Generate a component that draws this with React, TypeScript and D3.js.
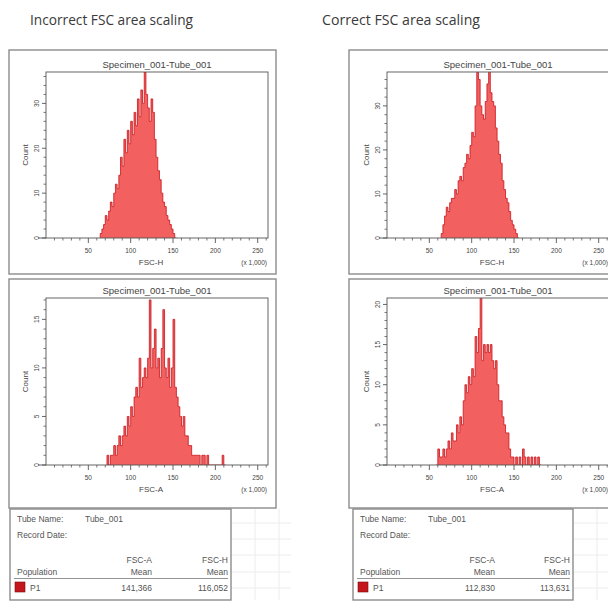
import React from 'react';
import * as d3 from 'd3';

// ---------- data ----------
const columnTitles = ['Incorrect FSC area scaling', 'Correct FSC area scaling'];
const plotTitle = 'Specimen_001-Tube_001';
const xTickValues = [50, 100, 150, 200, 250];
const xTickLabels = ['50', '100', '150', '200', '250'];
const binWidth = 2; // x 1,000

// Incorrect – FSC-H
const incorrectHStart = 64;
const incorrectHCounts = [1, 2, 3, 5, 4, 6, 8, 7, 10, 12, 11, 14, 18, 16, 22, 19, 24, 21, 26, 23, 28, 25, 31, 27, 33, 30, 37, 32, 29, 26, 31, 28, 22, 18, 15, 13, 10, 8, 7, 5, 4, 3, 2, 1, 0];
const incorrectHTicks = [0, 10, 20, 30];

// Incorrect – FSC-A
const incorrectAStart = 72;
const incorrectACounts = [1, 0, 1, 1, 2, 1, 2, 3, 2, 3, 4, 3, 5, 4, 6, 5, 7, 8, 7, 11, 8, 9, 10, 9, 11, 17, 10, 12, 14, 10, 11, 9, 12, 16, 10, 9, 11, 8, 10, 15, 8, 7, 6, 5, 4, 5, 3, 3, 2, 2, 1, 1, 1, 1, 1, 0, 1, 1, 0, 1, 0, 0, 0, 0, 0, 0, 0, 0, 1, 0];
const incorrectATicks = [0, 5, 10, 15];

// Correct – FSC-H
const correctHStart = 64;
const correctHCounts = [1, 3, 5, 7, 6, 8, 9, 9, 11, 10, 13, 14, 13, 16, 17, 19, 18, 21, 24, 23, 30, 38, 36, 30, 28, 27, 31, 35, 38, 33, 31, 30, 25, 22, 19, 17, 13, 11, 9, 8, 6, 4, 3, 2, 1, 0];
const correctHTicks = [0, 10, 20, 30];

// Correct – FSC-A
const correctAStart = 58;
const correctACounts = [0, 2, 1, 1, 2, 1, 2, 3, 2, 4, 3, 3, 5, 4, 6, 5, 8, 10, 9, 11, 10, 12, 11, 16, 14, 17, 21, 13, 15, 14, 15, 14, 15, 13, 12, 13, 10, 8, 8, 6, 5, 4, 4, 2, 1, 1, 0, 1, 0, 1, 0, 2, 1, 0, 1, 0, 1, 0, 1, 0, 1, 0];
const correctATicks = [0, 5, 10, 15, 20];

const tableTubeName = 'Tube_001';
const tableMeansLeft = ['141,366', '116,052'];
const tableMeansRight = ['112,830', '113,631'];

// ---------- helpers ----------
type PanelProps = {
  boxX: number; boxY: number; boxW: number; boxH: number;
  left: number; top: number; bottom: number;
  start: number; counts: number[]; ticks: number[]; yMax: number;
  xLabel: string; id: string;
};

const FONT = 'Liberation Sans, Arial, sans-serif';
const AXIS = '#555';

function Panel(p: PanelProps) {
  const x = d3.scaleLinear().domain([0, 262.144]).range([p.left, p.left + 222]);
  const y = d3.scaleLinear().domain([0, p.yMax]).range([p.bottom, p.top]);
  const right = x(262.144);
  const pts: [number, number][] = p.counts.map((c, i) => [p.start + i * binWidth, c]);
  pts.push([p.start + p.counts.length * binWidth, 0]);
  const area = d3.area<[number, number]>()
    .x(d => x(d[0])).y0(y(0)).y1(d => y(d[1]))
    .curve(d3.curveStepAfter);
  const line = d3.line<[number, number]>()
    .x(d => x(d[0])).y(d => y(d[1]))
    .curve(d3.curveStepAfter);
  const startPt: [number, number] = [p.start, 0];
  const linePts = [startPt, ...pts];
  const xMinor = d3.range(10, 262, 10).filter(v => v % 50 !== 0);
  const step = p.ticks[1] - p.ticks[0];
  const yMinor = d3.range(0, p.yMax, step / 5).filter(v => Math.abs(v / step - Math.round(v / step)) > 1e-6);
  return (
    <g>
      <rect x={p.boxX} y={p.boxY} width={p.boxW} height={p.boxH} fill="#fff" stroke="#8c8c8c" strokeWidth={1.4} />
      <clipPath id={p.id}>
        <rect x={p.left} y={p.top} width={right - p.left} height={p.bottom - p.top} />
      </clipPath>
      <g clipPath={`url(#${p.id})`}>
        <path d={area(pts) || ''} fill="#f2605f" />
        <path d={line(linePts) || ''} fill="none" stroke="#c9141c" strokeWidth={0.8} />
      </g>
      <rect x={p.left} y={p.top} width={right - p.left} height={p.bottom - p.top} fill="none" stroke={AXIS} strokeWidth={0.9} />
      <text x={(p.left + right) / 2} y={p.top - 4} textAnchor="middle" fontFamily={FONT} fontSize={9.5} fill="#444">{plotTitle}</text>
      {/* x axis */}
      <line x1={p.left - 8} x2={p.left} y1={p.bottom} y2={p.bottom} stroke={AXIS} strokeWidth={0.9} />
      {xTickValues.map((v, i) => (
        <g key={v}>
          <line x1={x(v)} x2={x(v)} y1={p.bottom} y2={p.bottom + 5} stroke={AXIS} strokeWidth={0.9} />
          <text x={x(v)} y={p.bottom + 15} textAnchor="middle" fontFamily={FONT} fontSize={6.5} fill="#444">{xTickLabels[i]}</text>
        </g>
      ))}
      {xMinor.map(v => (
        <line key={v} x1={x(v)} x2={x(v)} y1={p.bottom} y2={p.bottom + 2.5} stroke={AXIS} strokeWidth={0.8} />
      ))}
      <text x={(p.left + right) / 2 - 6} y={p.bottom + 27} textAnchor="middle" fontFamily={FONT} fontSize={8} fill="#444">{p.xLabel}</text>
      <text x={right - 1} y={p.bottom + 27} textAnchor="end" fontFamily={FONT} fontSize={6.5} fill="#444">(x 1,000)</text>
      {/* y axis */}
      {p.ticks.map(t => (
        <g key={t}>
          <line x1={p.left - 4} x2={p.left} y1={y(t)} y2={y(t)} stroke={AXIS} strokeWidth={0.9} />
          <text transform={`translate(${p.left - 7},${y(t)}) rotate(-90)`} textAnchor="middle" fontFamily={FONT} fontSize={6.5} fill="#444">{t}</text>
        </g>
      ))}
      {yMinor.map(v => (
        <line key={v} x1={p.left - 2.5} x2={p.left} y1={y(v)} y2={y(v)} stroke={AXIS} strokeWidth={0.8} />
      ))}
      <text transform={`translate(${p.left - 18},${(p.top + p.bottom) / 2}) rotate(-90)`} textAnchor="middle" fontFamily={FONT} fontSize={8} fill="#444">Count</text>
    </g>
  );
}

function Table({ x0, x1, means }: { x0: number; x1: number; means: string[] }) {
  const y0 = 509, y1 = 600;
  const c1 = x0 + 142, c2 = x1 - 3;
  const fs = 8.5;
  const col = '#555';
  return (
    <g fontFamily={FONT} fontSize={fs} fill={col}>
      {[523, 539, 555, 572, 588].map(gy => (
        <line key={gy} x1={x1} x2={x1 + 60} y1={gy} y2={gy} stroke="#ececec" strokeWidth={1} />
      ))}
      {[x1 + 24, x1 + 48].map(gx => (
        <line key={gx} x1={gx} x2={gx} y1={y0} y2={y1} stroke="#ececec" strokeWidth={1} />
      ))}
      <rect x={x0} y={y0} width={x1 - x0} height={y1 - y0} fill="#fff" stroke="#8c8c8c" strokeWidth={1.4} />
      <text x={x0 + 7} y={522}>Tube Name:</text>
      <text x={x0 + 75} y={522}>{tableTubeName}</text>
      <text x={x0 + 7} y={538}>Record Date:</text>
      <text x={c1} y={563} textAnchor="end">FSC-A</text>
      <text x={c2} y={563} textAnchor="end">FSC-H</text>
      <text x={x0 + 7} y={575}>Population</text>
      <text x={c1} y={575} textAnchor="end">Mean</text>
      <text x={c2} y={575} textAnchor="end">Mean</text>
      <line x1={x0 + 4} x2={x1 - 3} y1={578.5} y2={578.5} stroke="#777" strokeWidth={0.8} />
      <rect x={x0 + 5} y={582} width={10} height={10} fill="#c4161c" stroke="#7a0b0e" strokeWidth={0.6} />
      <text x={x0 + 20} y={591}>P1</text>
      <text x={c1} y={591} textAnchor="end">{means[0]}</text>
      <text x={c2} y={591} textAnchor="end">{means[1]}</text>
    </g>
  );
}

export default function App() {
  const panels: PanelProps[] = [
    { id: 'c1', boxX: 9, boxY: 50, boxW: 267, boxH: 224, left: 46, top: 72, bottom: 238, start: incorrectHStart, counts: incorrectHCounts, ticks: incorrectHTicks, yMax: 37, xLabel: 'FSC-H' },
    { id: 'c2', boxX: 9, boxY: 279, boxW: 267, boxH: 229, left: 46, top: 298, bottom: 465, start: incorrectAStart, counts: incorrectACounts, ticks: incorrectATicks, yMax: 17.2, xLabel: 'FSC-A' },
    { id: 'c3', boxX: 349, boxY: 50, boxW: 267, boxH: 224, left: 387, top: 72, bottom: 238, start: correctHStart, counts: correctHCounts, ticks: correctHTicks, yMax: 37.7, xLabel: 'FSC-H' },
    { id: 'c4', boxX: 349, boxY: 279, boxW: 267, boxH: 229, left: 387, top: 298, bottom: 465, start: correctAStart, counts: correctACounts, ticks: correctATicks, yMax: 20.8, xLabel: 'FSC-A' },
  ];
  return (
    <svg width={608} height={601} style={{ position: 'absolute', left: 0, top: 0, background: '#fff' }}>
      <rect width={608} height={601} fill="#fff" />
      <text x={30} y={25} fontFamily="Open Sans, sans-serif" fontSize={14} fill="#3a3a3a" textLength={163} lengthAdjust="spacingAndGlyphs">{columnTitles[0]}</text>
      <text x={322} y={25} fontFamily="Open Sans, sans-serif" fontSize={14} fill="#3a3a3a" textLength={158} lengthAdjust="spacingAndGlyphs">{columnTitles[1]}</text>
      {panels.map(p => <Panel key={p.id} {...p} />)}
      <Table x0={10} x1={231} means={tableMeansLeft} />
      <Table x0={353} x1={573} means={tableMeansRight} />
    </svg>
  );
}
